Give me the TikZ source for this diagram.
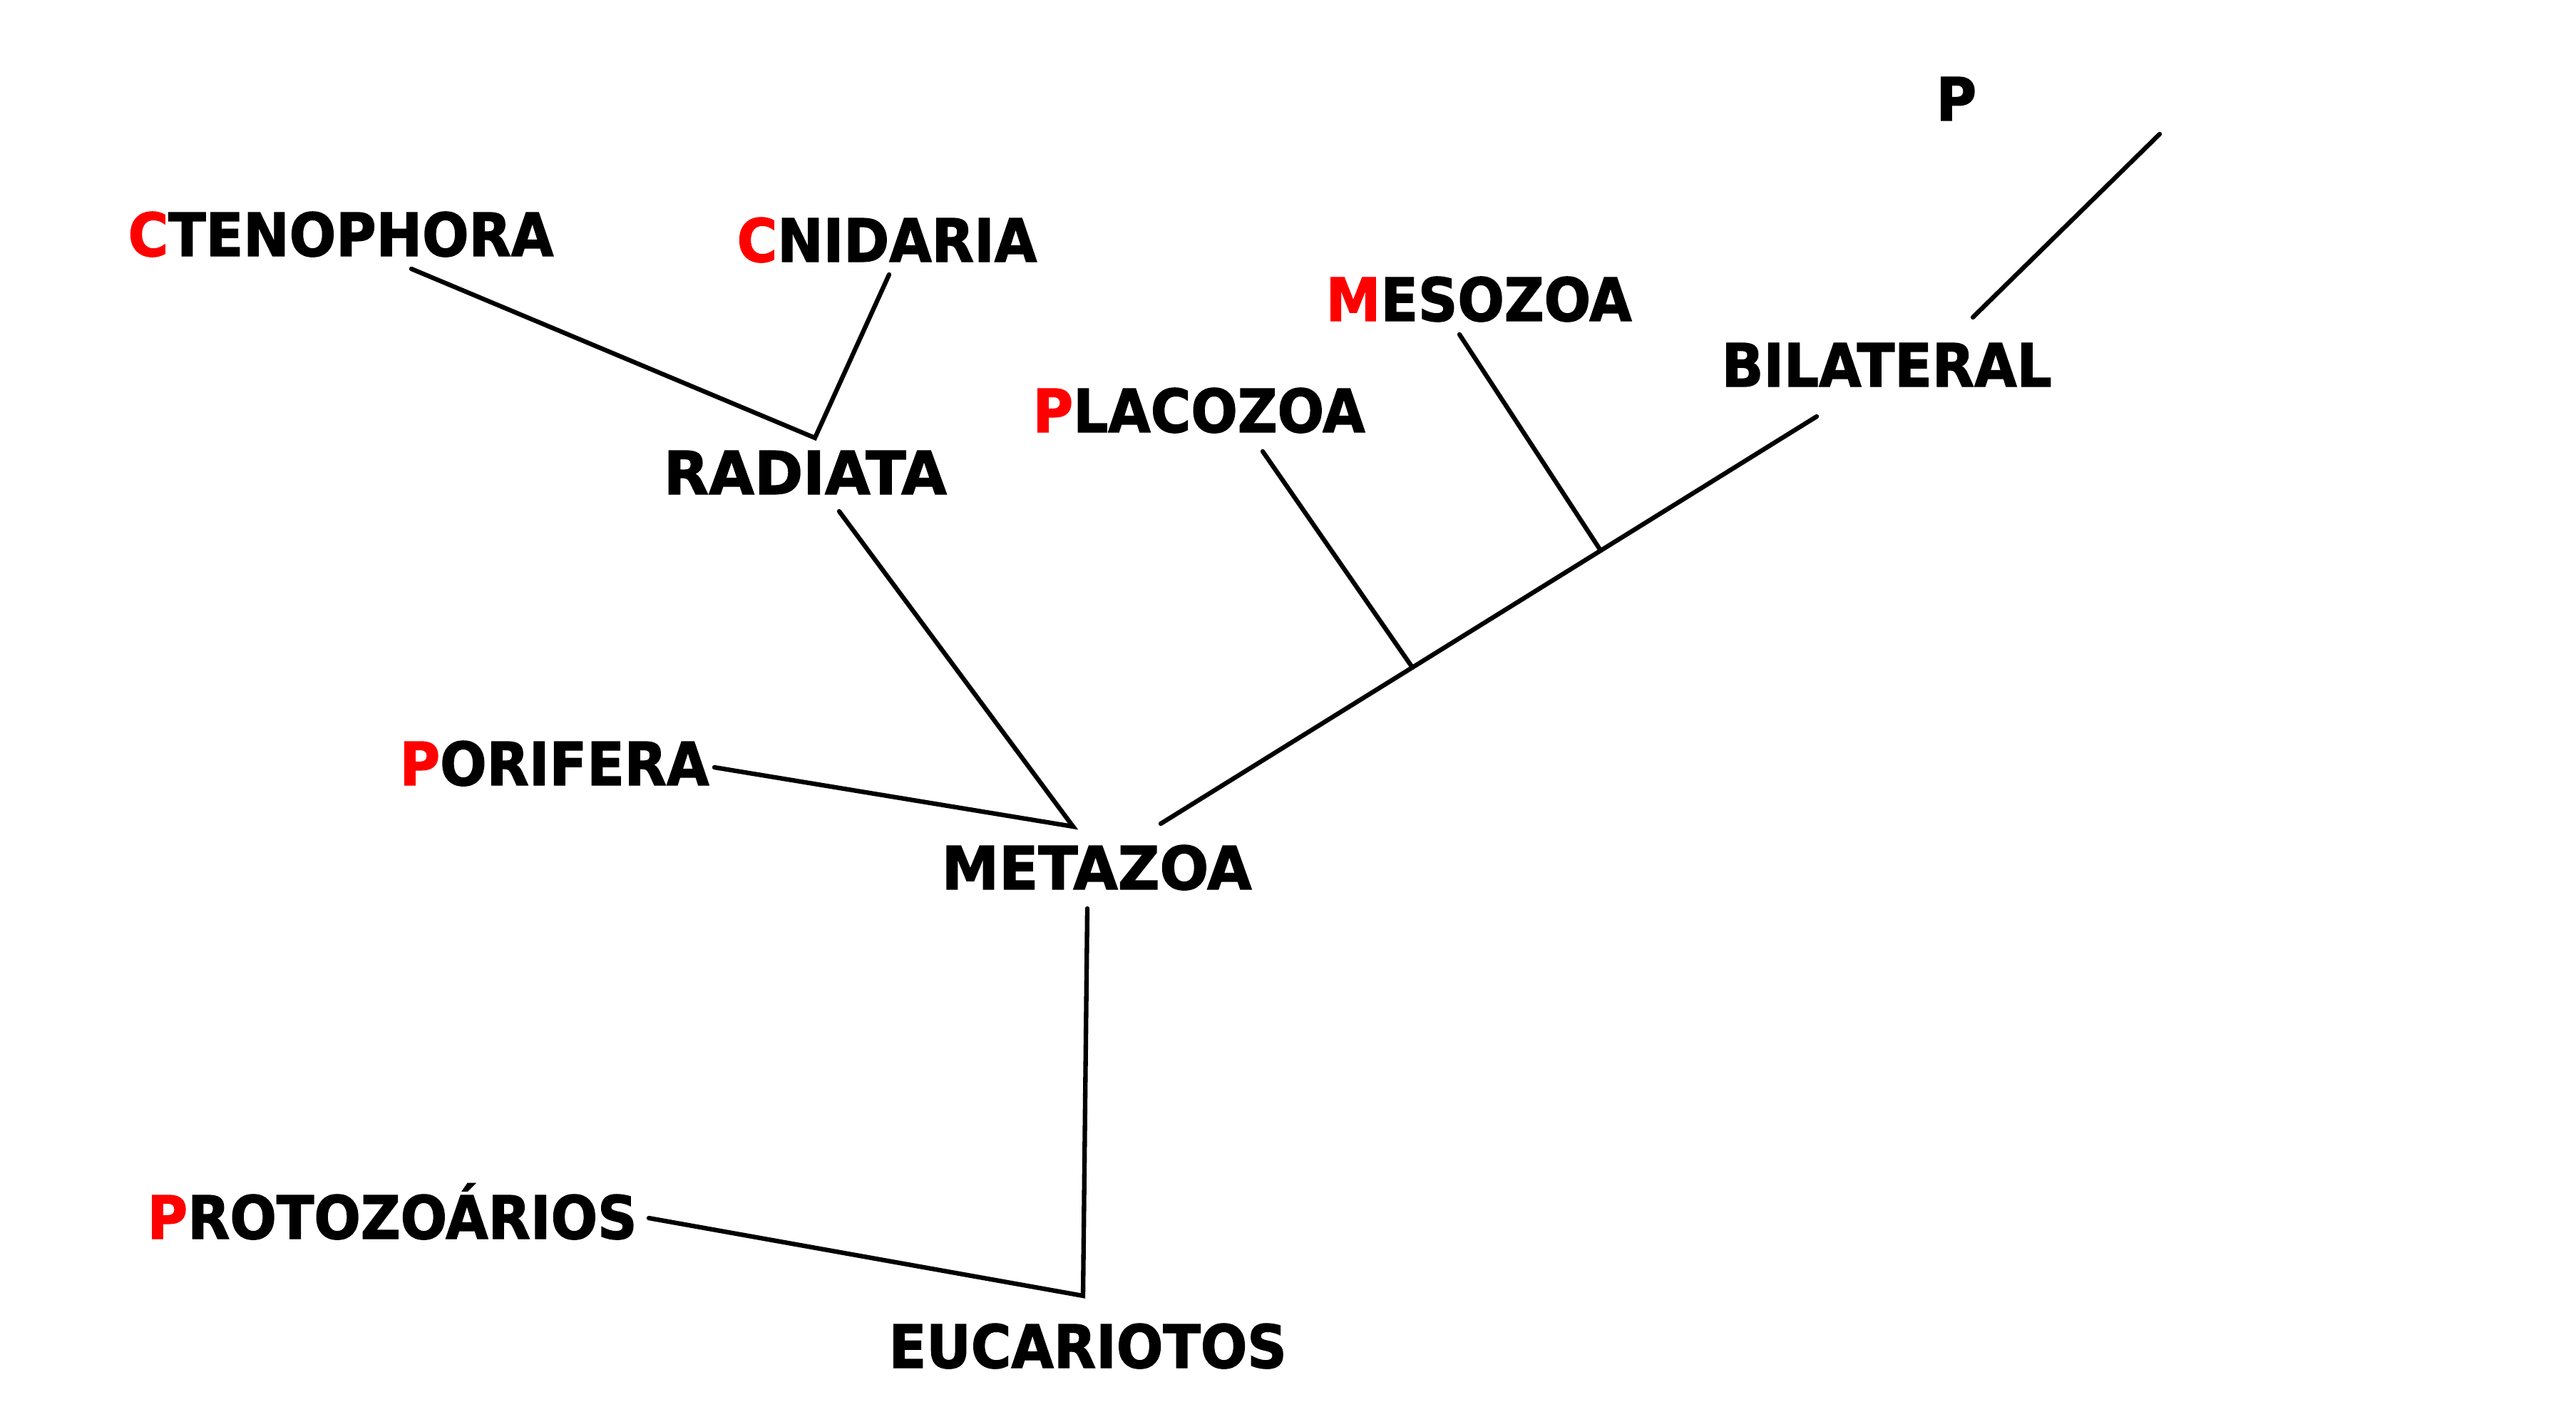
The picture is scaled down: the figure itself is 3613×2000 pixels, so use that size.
\documentclass[tikz,border=0pt]{standalone}
\usepackage{fontspec}
\newfontfamily\lblfont{DejaVu Sans}[FakeStretch=0.92,FakeBold=1.6]
\definecolor{initred}{RGB}{255,0,0}
\newcommand{\ini}[1]{\textcolor{initred}{#1}}
\newcommand{\widen}[2]{\scalebox{#1}[1]{#2}}
\begin{document}
\begin{tikzpicture}[x=0.01cm,y=-0.01cm,
  lab/.style={anchor=base west, inner sep=0pt, font=\lblfont\bfseries\fontsize{23.8}{28}\selectfont},
  branch/.style={line width=1.8pt, line cap=round, line join=miter}]
\useasboundingbox[fill=white] (0,0) rectangle (3613,2000);

% labels
\node[lab] (p)    at (2715,169)  {P};
\node[lab] (cten) at (179,359)   {\ini{C}TENOPHORA};
\node[lab] (cnid) at (1033,367)  {\ini{C}NIDARIA};
\node[lab] (rad)  at (930,693)   {\widen{1.07}{RADIATA}};
\node[lab] (por)  at (560,1101)  {\ini{P}ORIFERA};
\node[lab] (meta) at (1320,1247) {\widen{1.05}{METAZOA}};
\node[lab] (plac) at (1448,606)  {\ini{P}LACOZOA};
\node[lab] (meso) at (1859,450)  {\ini{M}ESOZOA};
\node[lab] (bil)  at (2414,542)  {BILATERAL};
\node[lab] (prot) at (206,1737)  {\ini{P}ROTOZOÁRIOS};
\node[lab] (euc)  at (1246,1918) {EUCARIOTOS};

% connector end points
\coordinate (pA) at (2767,445);
\coordinate (pB) at (3029,188);
\coordinate (ctenEnd) at (577,377);
\coordinate (cnidEnd) at (1247,385);
\coordinate (radJ) at (1143,614);
\coordinate (radEnd) at (1177,717);
\coordinate (porEnd) at (1002,1076);
\coordinate (metaJ) at (1505,1159);
\coordinate (mainA) at (1628,1155);
\coordinate (mainB) at (2548,584);
\coordinate (placJ) at (1981,936);
\coordinate (placEnd) at (1771,633);
\coordinate (mesoJ) at (2245,772);
\coordinate (mesoEnd) at (2047,469);
\coordinate (metaEnd) at (1525,1274);
\coordinate (eucJ) at (1519,1817);
\coordinate (protEnd) at (910,1708);

% connectors
\draw[branch] (pA) -- (pB);
\draw[branch] (ctenEnd) -- (radJ) -- (cnidEnd);
\draw[branch] (porEnd) -- (metaJ) -- (radEnd);
\draw[branch] (mainA) -- (mainB);
\draw[branch] (placEnd) -- (placJ);
\draw[branch] (mesoEnd) -- (mesoJ);
\draw[branch] (protEnd) -- (eucJ) -- (metaEnd);
\end{tikzpicture}
\end{document}
